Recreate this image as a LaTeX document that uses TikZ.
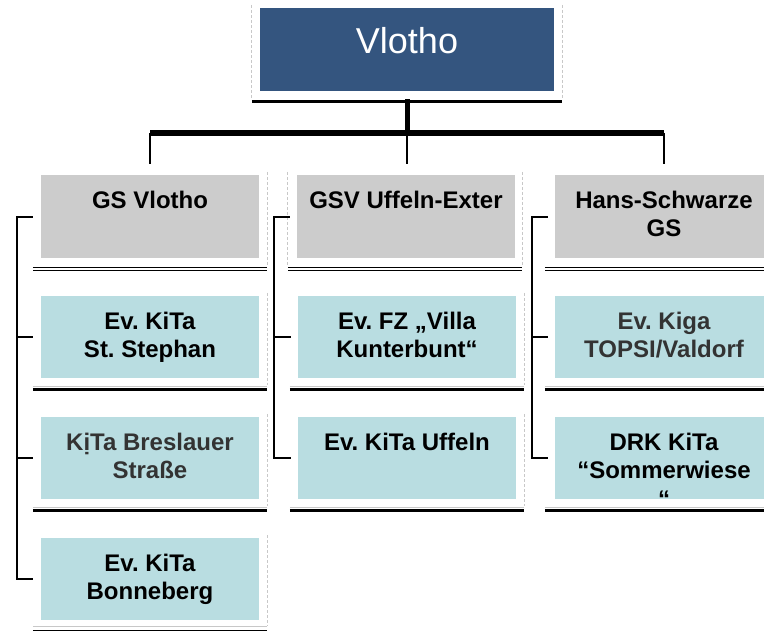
\documentclass[tikz,border=0pt]{standalone}
\usepackage{fontspec}
\setmainfont{Liberation Sans}
\frenchspacing
\definecolor{rootblue}{HTML}{34557F}
\definecolor{gsgray}{HTML}{CCCCCC}
\definecolor{kitablue}{HTML}{B9DDE1}
\definecolor{rulegray}{HTML}{C8C8C8}
\definecolor{textgray}{HTML}{333333}
\newcommand{\boxlines}[1]{\begin{tabular}[t]{@{}c@{}}#1\end{tabular}}

\begin{document}
\begin{tikzpicture}[x=1pt, y=-1pt, inner sep=0pt,
  rootbox/.style={fill=rootblue, text=white, anchor=north, minimum width=294pt, minimum height=83pt, text height=45pt, text depth=38pt, font=\fontsize{36}{40}\selectfont},
  orgbox/.style={anchor=north, minimum width=218pt, text height=33pt, font=\bfseries\fontsize{24}{28.5}\selectfont},
  gsbox/.style={orgbox, fill=gsgray, minimum height=83pt, text depth=50pt},
  kitabox/.style={orgbox, fill=kitablue, minimum height=82pt, text depth=49pt},
  framedash/.style={rulegray, line width=0.8pt, dash pattern=on 3pt off 2pt},
  dblrule/.style={double, double distance=1.8pt, line width=1.2pt},
  heavyrule/.style={line width=3pt},
  paperrule/.style={rulegray, line width=1pt},
  bracket/.style={line width=2pt}]
\useasboundingbox (0,0) rectangle (764,631);
\clip (0,0) rectangle (764,631);
\node (vlotho) at (407,8) [rootbox] {Vlotho};
\node (gs1) at (150,175) [gsbox] {\boxlines{GS Vlotho}};
\node (gs2) at (406,175) [gsbox] {\boxlines{GSV Uffeln-Exter}};
\node (gs3) at (664,175) [gsbox] {\boxlines{Hans-Schwarze\\GS}};
\node (k11) at (150,296) [kitabox] {\boxlines{Ev. KiTa\\St. Stephan}};
\node (k12) at (150,417) [kitabox, text=textgray] {\boxlines{KịTa Breslauer\\Straße}};
\node (k13) at (150,538) [kitabox] {\boxlines{Ev. KiTa\\Bonneberg}};
\node (k21) at (407,296) [kitabox] {\boxlines{Ev. FZ „Villa\\Kunterbunt“}};
\node (k22) at (407,417) [kitabox] {\boxlines{Ev. KiTa Uffeln}};
\node (k31) at (664,296) [kitabox, text=textgray] {\boxlines{Ev. Kiga\\TOPSI/Valdorf}};
\node (k32) at (664,417) [kitabox] {\boxlines{DRK KiTa\\“Sommerwiese\\“}};
\coordinate (bar) at (407,133);
\draw[framedash] ([xshift=-8pt,yshift=3pt]vlotho.north west) -- ([xshift=-8pt,yshift=-8pt]vlotho.south west);
\draw[framedash] ([xshift=8pt,yshift=3pt]vlotho.north east) -- ([xshift=8pt,yshift=-8pt]vlotho.south east);
\draw[line width=3.5pt] ([xshift=-8pt,yshift=-10pt]vlotho.south west) -- ([xshift=8pt,yshift=-10pt]vlotho.south east);
\draw[line width=5pt] ([yshift=-8pt]vlotho.south) -- ([yshift=3pt]bar);
\draw[line width=6pt] (gs1.north |- bar) -- (gs3.north |- bar);
\draw[bracket] (gs1.north |- bar) -- ([yshift=11pt]gs1.north);
\draw[bracket] (bar) -- ([yshift=11pt]gs2.north -| bar);
\draw[bracket] (gs3.north |- bar) -- ([yshift=11pt]gs3.north);
\draw[framedash] ([xshift=8pt,yshift=3pt]gs1.north east) -- ([xshift=8pt,yshift=-7pt]gs1.south east);
\draw[framedash] ([xshift=-9pt,yshift=3pt]gs2.north west) -- ([xshift=-9pt,yshift=-7pt]gs2.south west);
\draw[framedash] ([xshift=7pt,yshift=3pt]gs2.north east) -- ([xshift=7pt,yshift=-7pt]gs2.south east);
\draw[framedash] ([xshift=8pt,yshift=3pt]k11.north east) -- ([xshift=8pt,yshift=-7pt]k11.south east);
\draw[framedash] ([xshift=8pt,yshift=3pt]k12.north east) -- ([xshift=8pt,yshift=-7pt]k12.south east);
\draw[framedash] ([xshift=8pt,yshift=3pt]k13.north east) -- ([xshift=8pt,yshift=-5pt]k13.south east);
\draw[framedash] ([xshift=8pt,yshift=3pt]k21.north east) -- ([xshift=8pt,yshift=-7pt]k21.south east);
\draw[framedash] ([xshift=8pt,yshift=3pt]k22.north east) -- ([xshift=8pt,yshift=-7pt]k22.south east);
\draw[dblrule] ([xshift=-8pt,yshift=-10.5pt]gs1.south west) -- ([xshift=8pt,yshift=-10.5pt]gs1.south east);
\draw[dblrule] ([xshift=-9pt,yshift=-10.5pt]gs2.south west) -- ([xshift=7pt,yshift=-10.5pt]gs2.south east);
\draw[dblrule] ([xshift=-10pt,yshift=-10.5pt]gs3.south west) -- ([xshift=10pt,yshift=-10.5pt]gs3.south east);
\draw[paperrule] ([xshift=-8pt,yshift=-8pt]k11.south west) -- ([xshift=8pt,yshift=-8pt]k11.south east);
\draw[heavyrule] ([xshift=-8pt,yshift=-11pt]k11.south west) -- ([xshift=8pt,yshift=-11pt]k11.south east);
\draw[paperrule] ([xshift=-8pt,yshift=-8pt]k12.south west) -- ([xshift=8pt,yshift=-8pt]k12.south east);
\draw[heavyrule] ([xshift=-8pt,yshift=-11pt]k12.south west) -- ([xshift=8pt,yshift=-11pt]k12.south east);
\draw[paperrule] ([xshift=-8pt,yshift=-6pt]k13.south west) -- ([xshift=8pt,yshift=-6pt]k13.south east);
\draw[line width=1.5pt] ([xshift=-8pt,yshift=-10pt]k13.south west) -- ([xshift=8pt,yshift=-10pt]k13.south east);
\draw[paperrule] ([xshift=-8pt,yshift=-8pt]k21.south west) -- ([xshift=8pt,yshift=-8pt]k21.south east);
\draw[heavyrule] ([xshift=-8pt,yshift=-11pt]k21.south west) -- ([xshift=8pt,yshift=-11pt]k21.south east);
\draw[paperrule] ([xshift=-8pt,yshift=-8pt]k22.south west) -- ([xshift=8pt,yshift=-8pt]k22.south east);
\draw[heavyrule] ([xshift=-8pt,yshift=-11pt]k22.south west) -- ([xshift=8pt,yshift=-11pt]k22.south east);
\draw[paperrule] ([xshift=-10pt,yshift=-8pt]k31.south west) -- ([xshift=10pt,yshift=-8pt]k31.south east);
\draw[heavyrule] ([xshift=-10pt,yshift=-11pt]k31.south west) -- ([xshift=10pt,yshift=-11pt]k31.south east);
\draw[paperrule] ([xshift=-10pt,yshift=-8pt]k32.south west) -- ([xshift=10pt,yshift=-8pt]k32.south east);
\draw[heavyrule] ([xshift=-10pt,yshift=-11pt]k32.south west) -- ([xshift=10pt,yshift=-11pt]k32.south east);
\draw[bracket] ([xshift=-8pt]gs1.west) -- ++(-16pt,0) |- ([xshift=-8pt]k13.west);
\draw[bracket] ([xshift=-8pt]k11.west) -- ++(-16pt,0);
\draw[bracket] ([xshift=-8pt]k12.west) -- ++(-16pt,0);
\draw[bracket] ([xshift=-7pt]gs2.west) -- ++(-16pt,0) |- ([xshift=-7pt]k22.west);
\draw[bracket] ([xshift=-7pt]k21.west) -- ++(-16pt,0);
\draw[bracket] ([xshift=-7pt]gs3.west) -- ++(-16pt,0) |- ([xshift=-7pt]k32.west);
\draw[bracket] ([xshift=-7pt]k31.west) -- ++(-16pt,0);
\end{tikzpicture}
\end{document}
